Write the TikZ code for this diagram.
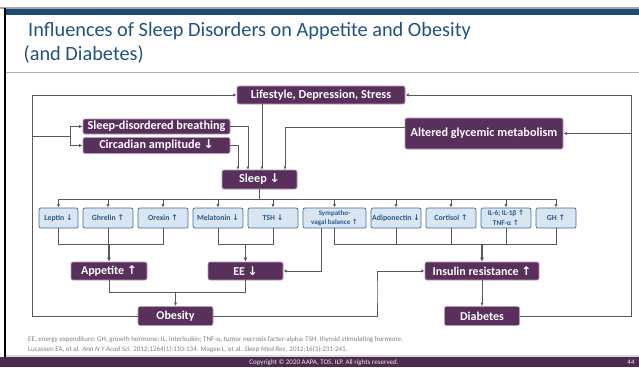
\documentclass[tikz,border=0pt]{standalone}
\usepackage{fontspec}
\setmainfont{Carlito}
\newfontfamily\arrfont{DejaVu Sans}
\usetikzlibrary{arrows.meta}
\definecolor{pfill}{HTML}{58305B}
\definecolor{pborder}{HTML}{B89BB8}
\definecolor{bfill}{HTML}{DAE5F2}
\definecolor{bborder}{HTML}{3E6D9C}
\definecolor{btext}{HTML}{2B5B8B}
\definecolor{cgray}{HTML}{595959}
\definecolor{titleblue}{HTML}{22527F}
\definecolor{barblue}{HTML}{1B4A72}
\definecolor{footpurple}{HTML}{4B2B4E}
\newcommand{\up}{{\arrfont\char"2191}}
\newcommand{\dn}{{\arrfont\char"2193}}
\tikzset{
  purp/.style={fill=pfill, draw=pborder, line width=0.6pt, rounded corners=2pt, text=white,
    font=\bfseries\fontsize{12.2}{13}\selectfont, inner sep=0pt, align=center},
  purpbig/.style={purp, font=\bfseries\fontsize{12}{13}\selectfont},
  bluebox/.style={fill=bfill, draw=bborder, line width=0.7pt, rounded corners=2pt, text=btext,
    font=\bfseries\fontsize{7.8}{8.5}\selectfont, inner sep=0pt, align=center,
    minimum height=20pt, minimum width=50pt},
  conn/.style={draw=cgray, line width=0.9pt},
  arr/.style={conn, -{Latex[length=3.5pt,width=3pt]}},
  arrthick/.style={draw=cgray, line width=1.5pt, -{Latex[length=4pt,width=4pt]}},
  foot/.style={inner sep=0, font=\fontsize{7}{7.5}\selectfont},
}
\begin{document}
\begin{tikzpicture}[x=1pt,y=-1pt]
\useasboundingbox (0,0) rectangle (639,367);
\fill[white] (0,0) rectangle (639,367);
% frame
\fill[gray!70] (0,7.3) rectangle (639,8.7);
\fill[barblue] (5,9.3) rectangle (639,15.3);
\fill[black] (4,8) rectangle (6.3,357);
\fill[gray!60] (6,71.5) rectangle (639,73);
\fill[gray!30] (6,354.5) rectangle (639,357);
\fill[footpurple] (0,357) rectangle (639,367);
% title
\node[anchor=base west, inner sep=0, text=titleblue, font=\fontsize{20.3}{22}\selectfont] (t1) at (28,36) {Influences of Sleep Disorders on Appetite and Obesity};
\node[anchor=base west, inner sep=0, text=titleblue, font=\fontsize{20.3}{22}\selectfont] (t2) at (23.5,60) {(and Diabetes)};
% top nodes
\node[purp, minimum width=168pt, minimum height=18pt] (life) at (321,95) {Lifestyle, Depression, Stress};
\node[purp, minimum width=147pt, minimum height=15pt] (sdb) at (156.5,126.5) {Sleep-disordered breathing};
\node[purp, minimum width=147pt, minimum height=16pt] (circ) at (156.5,145.5) {Circadian amplitude \dn};
\node[purp, minimum width=158pt, minimum height=31pt] (alt) at (484,133.5) {Altered glycemic metabolism};
\node[purp, minimum width=75pt, minimum height=19pt] (sleep) at (259.5,179.5) {Sleep \dn};
% blue row
\node[bluebox, minimum width=39pt] (lep) at (58.5,218) {Leptin \dn};
\node[bluebox] (ghr) at (108,218) {Ghrelin \up};
\node[bluebox] (ore) at (163,218) {Orexin \up};
\node[bluebox] (mel) at (218,218) {Melatonin \dn};
\node[bluebox] (tsh) at (273,218) {TSH \dn};
\node[bluebox, minimum width=63pt, font=\bfseries\fontsize{7}{9}\selectfont] (symp) at (334.5,218) {Sympatho-\\vagal balance \up};
\node[bluebox] (adi) at (396,218) {Adiponectin \dn};
\node[bluebox] (cor) at (451,218) {Cortisol \up};
\node[bluebox, font=\bfseries\fontsize{7.3}{9.5}\selectfont] (il) at (506,218) {IL-6; IL-1β \up\\TNF-α \up};
\node[bluebox, minimum width=40pt] (gh) at (556,218) {GH \up};
% bottom nodes
\node[purpbig, minimum width=76pt, minimum height=18pt] (app) at (109,271) {Appetite \up};
\node[purpbig, minimum width=75pt, minimum height=18pt] (ee) at (245.5,271) {EE \dn};
\node[purpbig, minimum width=114pt, minimum height=18pt] (ins) at (482,271) {Insulin resistance \up};
\node[purpbig, minimum width=75pt, minimum height=19pt] (obe) at (175.5,316) {Obesity};
\node[purpbig, minimum width=75pt, minimum height=19pt] (dia) at (482,316) {Diabetes};
% coordinates
\coordinate (lc) at (32,95);
\coordinate (br) at (32,136);
\coordinate (bj) at (70,136);
\coordinate (rc) at (631,95);
\coordinate (s1) at (238,170);
\coordinate (s2) at (248,170);
\coordinate (s3) at (262,170);
\coordinate (s4) at (285,170);
\coordinate (bus) at (259.5,199);
\coordinate (b1) at (0,244);
\coordinate (b2) at (0,292);
\coordinate (oi) at (377,290);
\coordinate (sv) at (321,228);
% left loop
\draw[arr] (obe.west) -| (lc) -- (life.west);
\draw[conn] (br) -- (bj);
\draw[arr] (bj) |- (sdb.west);
\draw[arr] (bj) |- (circ.west);
% right loop
\draw[arr] (dia.east) -| (rc) -- (life.east);
\draw[arr] (rc |- alt.east) -- (alt.east);
% into sleep
\draw[arr] (sdb.east) -| (s2);
\draw[arr] (circ.east) -| (s1);
\draw[arr] (life.south -| s3) -- (s3);
\draw[arr] ([yshift=6.5pt]alt.west) -| (s4);
% sleep bus
\draw[conn] (sleep.south) -- (bus);
\draw[conn] (lep.north |- bus) -- (gh.north |- bus);
\foreach \n in {lep,ghr,ore,mel,tsh,symp,adi,cor,il,gh}{
  \draw[arr] (\n.north |- bus) -- (\n.north);
}
% appetite bus
\draw[conn] (lep.south) -- (lep.south |- b1) -- (ore.south |- b1) -- (ore.south);
\draw[conn] (ghr.south) -- (ghr.south |- b1);
\draw[arrthick] (app.north |- b1) -- (app.north);
% EE bus
\draw[conn] (mel.south) -- (mel.south |- b1) -- (tsh.south |- b1) -- (tsh.south);
\draw[arrthick] (ee.north |- b1) -- (ee.north);
% insulin bus
\draw[conn] (symp.south) -- (symp.south |- b1) -- (gh.south |- b1) -- (gh.south);
\foreach \n in {adi,cor,il}{
  \draw[conn] (\n.south) -- (\n.south |- b1);
}
\draw[arrthick] (ins.north |- b1) -- (ins.north);
% sympatho to EE
\draw[arr] (sv) |- (ee.east);
% appetite/EE to obesity
\draw[conn] (app.south) -- (app.south |- b2) -- (ee.south |- b2) -- (ee.south);
\draw[arr] (obe.north |- b2) -- (obe.north);
% obesity to insulin
\draw[arr] (obe.east) -| (oi) |- (ins.west);
% insulin to diabetes
\draw[arr] (ins.south) -- (dia.north);
% footnotes
\node[foot, anchor=west, text=gray] (fn1) at (28,340) {EE, energy expenditure; GH, growth hormone; IL, interleukin; TNF-α, tumor necrosis facter-alpha; TSH, thyroid stimulating hormone.};
\node[foot, anchor=west, text=gray] (fn2) at (28,349.5) {Lucassen EA, et al. \textit{Ann N Y Acad Sci}. 2012;1264(1):110-134. Magee L, et al. \textit{Sleep Med Rev}. 2012;16(3):231-241.};
\node[foot, text=white!85!gray] (copy) at (324,362.3) {Copyright © 2020 AAPA, TOS, ILP. All rights reserved.};
\node[foot, text=white!85!gray] (pg) at (631,362.3) {44};
\end{tikzpicture}
\end{document}
